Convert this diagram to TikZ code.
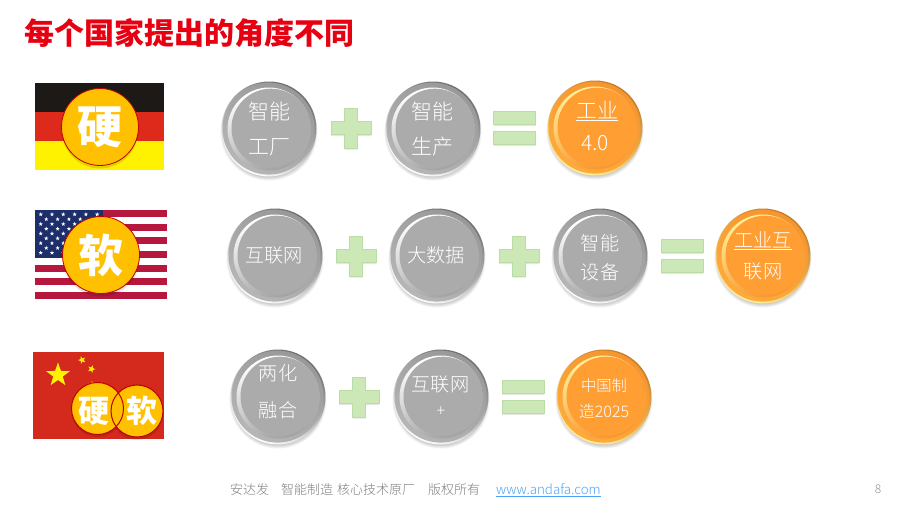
\documentclass[tikz,border=0pt]{standalone}
\usepackage{fontspec}
\setmainfont{Noto Sans CJK SC}
\setsansfont{Noto Sans CJK SC}
\newfontfamily\lightcjk{Noto Sans CJK SC Light}
\usetikzlibrary{shapes.geometric,shadings,fadings}
\definecolor{greyFill}{HTML}{ABABAB}
\definecolor{greyEdgeD}{HTML}{6E6E6E}
\definecolor{greyEdgeL}{HTML}{FFFFFF}
\definecolor{greyRimD}{HTML}{989898}
\definecolor{greyRimL}{HTML}{B6B6B6}
\definecolor{greyBevel}{HTML}{FFFFFF}
\definecolor{greyShade}{HTML}{A2A2A2}
\definecolor{orangeFill}{HTML}{FF9E32}
\definecolor{orangeEdgeD}{HTML}{C67A22}
\definecolor{orangeEdgeL}{HTML}{FFF29A}
\definecolor{orangeRimD}{HTML}{F59530}
\definecolor{orangeRimL}{HTML}{FFAA3C}
\definecolor{orangeBevel}{HTML}{FFF09A}
\definecolor{orangeShade}{HTML}{F8962E}
\definecolor{plusGreen}{HTML}{CBE8B6}
\definecolor{plusEdge}{HTML}{BCDCA6}
\definecolor{badge}{HTML}{FFC000}
\definecolor{badgeEdge}{HTML}{C00000}
\definecolor{titleRed}{HTML}{E60012}
\definecolor{footGrey}{HTML}{7F7F7F}
\definecolor{linkBlue}{HTML}{4DA3F5}
\definecolor{usRed}{HTML}{B5173F}
\definecolor{usBlue}{HTML}{1D2F6B}
\definecolor{deBlack}{HTML}{1C1917}
\definecolor{deRed}{HTML}{DE2A1B}
\definecolor{flagYellow}{HTML}{FFF200}
\definecolor{cnRed}{HTML}{D42A1E}
\tikzset{
  softshadow/.style={fill=black,opacity=0.05},
  label/.style={text=white,inner sep=0pt,font=\lightcjk\fontsize{21}{24}\selectfont},
  small/.style={font=\lightcjk\fontsize{19.2}{24}\selectfont},
  badgecircle/.style={circle,fill=badge,draw=badgeEdge,line width=0.8pt,inner sep=0pt,text=white,font=\bfseries},
  barshape/.style={fill=plusGreen,draw=plusEdge,line width=0.8pt},
  star5/.style={star,star points=5,star point ratio=2.5,inner sep=0pt,fill=flagYellow},
  usstar/.style={star,star points=5,star point ratio=2.5,inner sep=0pt,minimum size=4.4pt,fill=white},
}
% \btn{name}{x}{y}{colour family: grey or orange}
\newcommand{\btn}[4]{%
  \foreach \d in {-1,0,1,2,3}{\fill[softshadow] (#2,#3+3) circle ({47.5-\d});}
  \shade[left color=#4EdgeD,right color=#4EdgeL,shading angle=-30] (#2,#3) circle (47.5);
  \shade[left color=#4RimD,right color=#4RimL,shading angle=-30] (#2-0.5,#3-0.4) circle (46);
  \shade[left color=#4Bevel,middle color=#4Fill,right color=#4Shade,shading angle=20] (#2,#3) circle (41.5);
  \node[circle,fill=#4Fill,minimum size=79pt,inner sep=0pt] (#1) at (#2+2,#3-0.8) {};
}
\newcommand{\plusmark}[3]{%
  \fill[black,opacity=0.10] (#2-20,#3-6.5+1.5) -- (#2-6.5,#3-6.5+1.5) -- (#2-6.5,#3-20+1.5) -- (#2+6.5,#3-20+1.5) -- (#2+6.5,#3-6.5+1.5) -- (#2+20,#3-6.5+1.5) -- (#2+20,#3+6.5+1.5) -- (#2+6.5,#3+6.5+1.5) -- (#2+6.5,#3+20+1.5) -- (#2-6.5,#3+20+1.5) -- (#2-6.5,#3+6.5+1.5) -- (#2-20,#3+6.5+1.5) -- cycle;
  \draw[barshape] (#2-20,#3-6.5) -- (#2-6.5,#3-6.5) -- (#2-6.5,#3-20) -- (#2+6.5,#3-20) -- (#2+6.5,#3-6.5) -- (#2+20,#3-6.5) -- (#2+20,#3+6.5) -- (#2+6.5,#3+6.5) -- (#2+6.5,#3+20) -- (#2-6.5,#3+20) -- (#2-6.5,#3+6.5) -- (#2-20,#3+6.5) -- cycle;
  \coordinate (#1) at (#2,#3);
}
\newcommand{\equalmark}[3]{%
  \fill[black,opacity=0.10] (#2-21,#3-17+1.5) rectangle (#2+21,#3-3.5+1.5);
  \fill[black,opacity=0.10] (#2-21,#3+3+1.5) rectangle (#2+21,#3+16.5+1.5);
  \draw[barshape] (#2-21,#3-17) rectangle (#2+21,#3-3.5);
  \draw[barshape] (#2-21,#3+3) rectangle (#2+21,#3+16.5);
  \coordinate (#1) at (#2,#3);
}
\begin{document}
\begin{tikzpicture}[x=1pt,y=-1pt]
\useasboundingbox (0,0) rectangle (907,509);
\fill[white] (0,0) rectangle (907,509);
% title
\node[anchor=west,inner sep=0pt,text=titleRed,font=\bfseries\fontsize{30}{34}\selectfont] (title) at (24,33) {每个国家提出的角度不同};
% Germany flag
\fill[deBlack] (35,83) rectangle (164,112);
\fill[deRed] (35,112) rectangle (164,141);
\fill[flagYellow] (35,141) rectangle (164,170);
% USA flag
\fill[white] (35,210) rectangle (167,299);
\foreach \i in {0,2,...,12}{\fill[usRed] (35,210+\i*6.846) rectangle (167,210+\i*6.846+6.846);}
\fill[usBlue] (35,210) rectangle (103,258);
\foreach \r in {0,2,4,6,8}{\foreach \c in {0,...,5}{\node[usstar] at (40.7+\c*11.3,214.4+\r*4.8) {};}}
\foreach \r in {1,3,5,7}{\foreach \c in {0,...,4}{\node[usstar] at (46.3+\c*11.3,214.4+\r*4.8) {};}}
% China flag
\fill[cnRed] (33,352) rectangle (164,439);
\node[star5,minimum size=25pt] (bigstar) at (58,375) {};
\node[star5,minimum size=8pt,rotate=20] (s1) at (82,360) {};
\node[star5,minimum size=8pt,rotate=-20] (s2) at (91.5,369) {};
\node[star5,minimum size=8pt] (s3) at (92,385) {};
% badges
\fill[black,opacity=0.12] (100,130) circle (38.5);
\node[badgecircle,minimum size=77pt,font=\bfseries\fontsize{45}{50}\selectfont] (ying) at (100,127) {硬};
\fill[black,opacity=0.12] (101,258) circle (38.5);
\node[badgecircle,minimum size=77pt,font=\bfseries\fontsize{45}{50}\selectfont] (ruan) at (101,255) {软};
\fill[black,opacity=0.12] (137,414) circle (26);
\fill[black,opacity=0.12] (97.5,411) circle (26);
\node[badgecircle,minimum size=52pt,line width=1pt] (ying2) at (97.5,408.5) {};
\node[badgecircle,minimum size=52pt,line width=1pt] (ruan2) at (137,411) {};
\begin{scope}
\clip (137,411) circle (26);
\draw[badgeEdge,line width=1pt] (97.5,408.5) circle (26);
\end{scope}
\node[text=white,inner sep=0pt,font=\bfseries\fontsize{31}{34}\selectfont] (yingT) at (94,411) {硬};
\node[text=white,inner sep=0pt,font=\bfseries\fontsize{31}{34}\selectfont] (ruanT) at (142,411) {软};
% row 1
\btn{a1}{269}{129}{grey}
\node[label] (a1t) at (269,112) {智能};
\node[label] (a1b) at (269,147) {工厂};
\plusmark{p1}{351}{128}
\btn{a2}{433}{129}{grey}
\node[label] (a2t) at (432,112) {智能};
\node[label] (a2b) at (432,147) {生产};
\equalmark{e1}{514.5}{128}
\btn{a3}{595}{128}{orange}
\node[label] (a3t) at (597,111) {\underline{工业}};
\node[label] (a3b) at (595,143) {4.0};
% row 2
\btn{b1}{275}{256}{grey}
\node[label,small] (b1t) at (274,255) {互联网};
\plusmark{p2}{356}{256}
\btn{b2}{437}{256}{grey}
\node[label,small] (b2t) at (436,255) {大数据};
\plusmark{p3}{519}{256}
\btn{b3}{600}{256}{grey}
\node[label,small] (b3t) at (600,243) {智能};
\node[label,small] (b3b) at (600,272) {设备};
\equalmark{e2}{682}{256}
\btn{b4}{763}{256}{orange}
\node[label,small] (b4t) at (763,241) {\underline{工业互}};
\node[label,small] (b4b) at (763,271) {联网};
% row 3
\btn{c1}{278}{397}{grey}
\node[label,small] (c1t) at (278,373) {两化};
\node[label,small] (c1b) at (278,410) {融合};
\plusmark{p4}{359}{397}
\btn{c2}{441}{397}{grey}
\node[label,small] (c2t) at (440.5,384) {互联网};
\node[label,font=\lightcjk\fontsize{16}{20}\selectfont] (c2b) at (441,412) {+};
\equalmark{e3}{523}{397}
\btn{c3}{604}{397}{orange}
\node[label,font=\lightcjk\fontsize{15.3}{20}\selectfont] (c3t) at (604,386) {中国制};
\node[label,font=\lightcjk\fontsize{16}{20}\selectfont] (c3b) at (604,411) {造2025};
% footer
\node[anchor=west,inner sep=0pt,text=footGrey,font=\lightcjk\fontsize{13}{15}\selectfont] (foot1) at (230,490) {安达发};
\node[anchor=west,inner sep=0pt,text=footGrey,font=\lightcjk\fontsize{13}{15}\selectfont] (foot2) at (281,490) {智能制造};
\node[anchor=west,inner sep=0pt,text=footGrey,font=\lightcjk\fontsize{13}{15}\selectfont] (foot3) at (337,490) {核心技术原厂};
\node[anchor=west,inner sep=0pt,text=footGrey,font=\lightcjk\fontsize{13}{15}\selectfont] (foot4) at (428,490) {版权所有};
\node[anchor=west,inner sep=0pt,text=linkBlue,font=\lightcjk\fontsize{13.3}{15}\selectfont] (link) at (496,490) {\underline{www.andafa.com}};
\node[inner sep=0pt,text=gray!85,font=\lightcjk\fontsize{12}{14}\selectfont] (page) at (878,489) {8};
\end{tikzpicture}
\end{document}
